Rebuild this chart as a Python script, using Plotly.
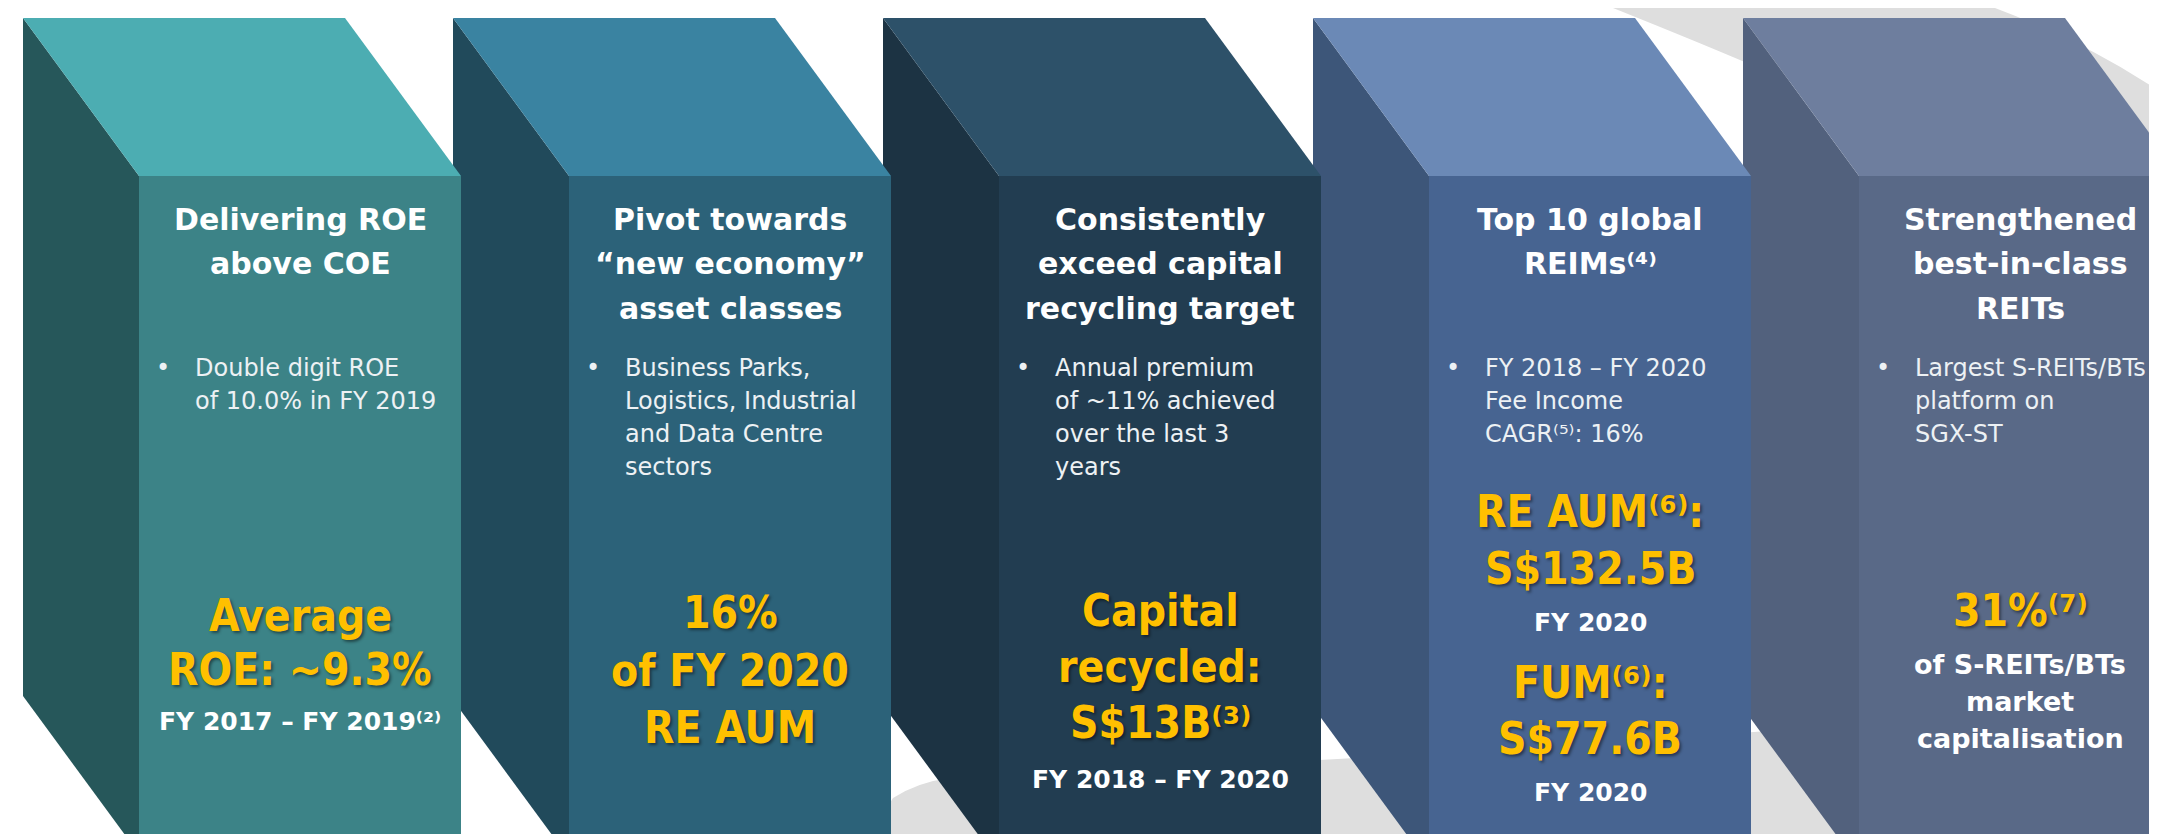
import plotly.graph_objects as go

W, H = 2157, 834

# ---------------- data (text content) ----------------
headers = [
    ["Delivering ROE", "above COE"],
    ["Pivot towards", "“new economy”", "asset classes"],
    ["Consistently", "exceed capital", "recycling target"],
    ["Top 10 global", "REIMs⁽⁴⁾"],
    ["Strengthened", "best-in-class", "REITs"],
]
bullets = [
    ["Double digit ROE", "of 10.0% in FY 2019"],
    ["Business Parks,", "Logistics, Industrial", "and Data Centre", "sectors"],
    ["Annual premium", "of ~11% achieved", "over the last 3", "years"],
    ["FY 2018 – FY 2020", "Fee Income", "CAGR⁽⁵⁾: 16%"],
    ["Largest S-REITs/BTs", "platform on", "SGX-ST"],
]
highlight_text = [
    ["Average", "ROE: ~9.3%", "FY 2017 – FY 2019⁽²⁾"],
    ["16%", "of FY 2020", "RE AUM"],
    ["Capital", "recycled:", "S$13B⁽³⁾", "FY 2018 – FY 2020"],
    ["RE AUM⁽⁶⁾:", "S$132.5B", "FY 2020", "FUM⁽⁶⁾:", "S$77.6B", "FY 2020"],
    ["31%⁽⁷⁾", "of S-REITs/BTs", "market", "capitalisation"],
]
highlight_kind = [
    ["value", "value", "note"],
    ["value", "value", "value"],
    ["value", "value", "value", "note"],
    ["value", "value", "note", "value", "value", "note"],
    ["value", "caption", "caption", "caption"],
]

# ---------------- layout / style ----------------
box_top = ["#4CADB2", "#3A83A1", "#2D5169", "#6B89B6", "#6E7E9E"]
box_side = ["#26575A", "#214A5B", "#1C3343", "#3D5679", "#52617D"]
box_front = ["#3C8387", "#2C6279", "#223D51", "#476491", "#596987"]
SWOOSH = "#DEDEDE"
GOLD = "#FFC000"

X0, STEP, TOP, DX, DY, FW = 15, 430, 10, 116, 158, 322
SIDE_BOTTOM = [688, 692, 697, 699, 700]

HEADER_BASE = [230, 274, 319]
BULLET_BASE = [375, 408, 441, 474]
HL_BASE = [
    [635, 689, 729],
    [632, 690, 747],
    [630, 686, 742, 787],
    [531, 588, 630, 702, 758, 800],
    [630, 673, 710, 747],
]

HEAD_FONT = dict(family="DejaVu Sans", size=30, color="white", weight=700)
BUL_FONT = dict(family="DejaVu Sans", size=24, color="#EDF1F4", weight=400)
VAL_FONT = dict(family="DejaVu Sans Condensed", size=44, color=GOLD,
                weight=700, shadow="2px 2px 3px rgba(0,0,0,0.45)")
NOTE_FONT = dict(family="DejaVu Sans", size=25, color="white", weight=700)
CAP_FONT = dict(family="DejaVu Sans", size=27, color="white", weight=700)
FONTS = {"value": VAL_FONT, "note": NOTE_FONT, "caption": CAP_FONT}
SHIFT = 0.62

shapes = []
annotations = []

# background swoosh bands
shapes.append(dict(
    type="path", layer="below", line=dict(width=0), fillcolor=SWOOSH,
    path="M 1605,0 Q 1700,38 1760,64 Q 1950,150 2157,240 L 2157,87 Q 2080,35 1987,0 Z"))
shapes.append(dict(
    type="path", layer="below", line=dict(width=0), fillcolor=SWOOSH,
    path="M 858,834 L 885,790 Q 910,774 942,770 Q 1300,756 1746,724 Q 1950,708 2157,686 L 2157,834 Z"))


def ann(x, y_base, text, font, xanchor="center"):
    annotations.append(dict(
        x=x, y=y_base - SHIFT * font["size"], xref="x", yref="y",
        text=text, showarrow=False, xanchor=xanchor, yanchor="middle",
        font=font, align="left" if xanchor == "left" else "center"))


for i in reversed(range(5)):
    bx = X0 + STEP * i
    fx = bx + DX
    fy = TOP + DY
    sb = SIDE_BOTTOM[i]
    # left side face
    shapes.append(dict(
        type="path", line=dict(width=0), fillcolor=box_side[i], layer="above",
        path=f"M {bx},{TOP} L {fx},{fy} L {fx},{sb + DY} L {bx},{sb} Z"))
    # front face
    shapes.append(dict(
        type="path", line=dict(width=0), fillcolor=box_front[i], layer="above",
        path=f"M {fx},{fy} L {fx + FW},{fy} L {fx + FW},{H + 10} L {fx},{H + 10} Z"))
    # top face
    shapes.append(dict(
        type="path", line=dict(width=0), fillcolor=box_top[i], layer="above",
        path=f"M {bx},{TOP} L {bx + FW},{TOP} L {fx + FW},{fy} L {fx},{fy} Z"))

for i in range(5):
    fx = X0 + STEP * i + DX
    cx = fx + FW / 2
    for j, line in enumerate(headers[i]):
        ann(cx, HEADER_BASE[j], line, HEAD_FONT)
    for j, line in enumerate(bullets[i]):
        if j == 0:
            ann(fx + 24, BULLET_BASE[j], "•", BUL_FONT)
        ann(fx + 54, BULLET_BASE[j], line, BUL_FONT, xanchor="left")
    for j, line in enumerate(highlight_text[i]):
        ann(cx, HL_BASE[i][j], line, FONTS[highlight_kind[i][j]])

fig = go.Figure()
fig.update_layout(
    width=W, height=H, margin=dict(l=0, r=0, t=0, b=0),
    paper_bgcolor="white", plot_bgcolor="white",
    xaxis=dict(range=[0, W], visible=False, fixedrange=True),
    yaxis=dict(range=[H, 0], visible=False, fixedrange=True),
    shapes=shapes, annotations=annotations, showlegend=False,
)
fig.write_html("out.html")
